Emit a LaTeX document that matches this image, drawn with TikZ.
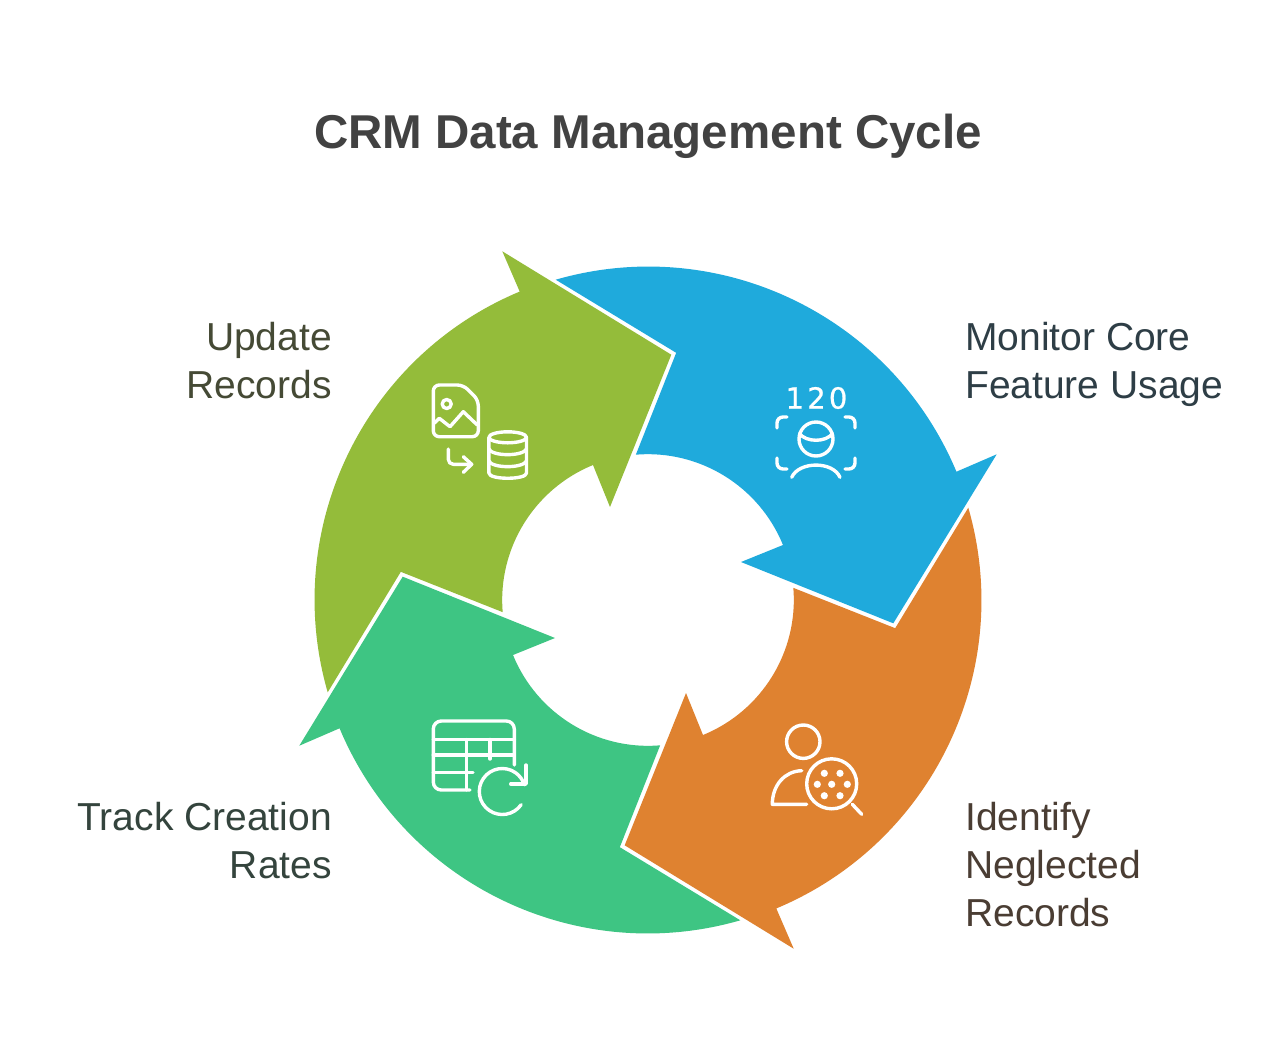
\documentclass[tikz,border=0pt]{standalone}
\usepackage{fontspec}
\setmainfont{Liberation Sans}
\newfontfamily\iconfont[FakeBold=0.8]{DejaVu Sans}
\definecolor{cblue}{HTML}{1FAADC}
\definecolor{cgreen}{HTML}{94BC3A}
\definecolor{corange}{HTML}{DF8230}
\definecolor{cteal}{HTML}{3EC583}
\definecolor{ctitle}{HTML}{424242}
\definecolor{tblue}{HTML}{2E3E46}
\definecolor{tgreen}{HTML}{454A35}
\definecolor{tteal}{HTML}{34443D}
\definecolor{torange}{HTML}{4A3D33}
\newcommand{\petal}[2]{%
  \fill[#1,shift={(648,600)},rotate=#2]
    (-92.3,-320.3) arc[start angle=-106.1,end angle=-22.7,radius=334]
    -- (348.7,-145.7) -- (245.3,23.3) -- (93,-38) -- (135,-55)
    arc[start angle=-22.2,end angle=-94.7,radius=146]
    -- (28.2,-247.2) -- cycle;}
\tikzset{
  icon/.style={draw=white,line width=3.4pt,line cap=round,line join=round,fill=none},
  dot/.style={fill=white,draw=none},
  lbl/.style={font=\fontsize{39}{48}\selectfont,inner sep=0pt},
}
\begin{document}
\begin{tikzpicture}[x=1pt,y=-1pt]
\fill[white] (0,0) rectangle (1272,1050);
\useasboundingbox (0,0) rectangle (1272,1050);
\node[font=\fontsize{47.5}{56}\bfseries\selectfont,text=ctitle,inner sep=0pt] (title) at (648,136) {CRM Data Management Cycle};
\petal{cblue}{0}
\petal{corange}{-90}
\petal{cteal}{-180}
\petal{cgreen}{-270}
% labels
\node[lbl,text=tblue,anchor=west,align=left] (monitor) at (965,364) {Monitor Core\\Feature Usage};
\node[lbl,text=tgreen,anchor=east,align=right] (update) at (332,360.5) {Update\\Records};
\node[lbl,text=torange,anchor=west,align=left] (identify) at (965,864.5) {Identify\\Neglected\\Records};
\node[lbl,text=tteal,anchor=east,align=right] (track) at (332,840.5) {Track Creation\\Rates};
% icon: monitor
\node[font=\iconfont\fontsize{29}{29}\selectfont,text=white,inner sep=0pt] (count) at (816.5,398) {1\kern3.2pt2\kern3.2pt0};
\draw[icon,rounded corners=6pt] (777,428) -- (777,417) -- (787,417);
\draw[icon,rounded corners=6pt] (855,428) -- (855,417) -- (845,417);
\draw[icon,rounded corners=6pt] (777,458) -- (777,469) -- (787,469);
\draw[icon,rounded corners=6pt] (855,458) -- (855,469) -- (845,469);
\draw[icon] (816,439) circle[radius=17];
\draw[icon] (799.5,433.5) .. controls (806,442.5) and (826,442.5) .. (832.5,433.5);
\draw[icon] (791.7,477.3) .. controls (799,461) and (833,461) .. (840,477.3);
% icon: update
\draw[icon,rounded corners=6pt] (450,385) -- (433.3,385) -- (433.3,436.7) -- (478.3,436.7) -- (478.3,400) -- (463.3,385) -- cycle;
\draw[icon] (446.7,404) circle[radius=4.5];
\draw[icon] (434,423.3) -- (439.3,418.3) -- (450,426.7) -- (463.3,411.7) -- (477.3,425);
\draw[icon,rounded corners=5pt] (448.3,449) -- (448.3,464.3) -- (471.7,464.3);
\draw[icon] (463.3,456.7) -- (471.7,464.3) -- (463.3,472.3);
\draw[icon] (507.7,437.3) ellipse[x radius=18.8,y radius=5.5];
\draw[icon] (488.9,437.3) -- (488.9,473) .. controls (489,480) and (526.5,480) .. (526.5,473) -- (526.5,437.3);
\draw[icon] (488.9,449) .. controls (492,456.5) and (523,456.5) .. (526.5,449);
\draw[icon] (488.9,461) .. controls (492,468.5) and (523,468.5) .. (526.5,461);
% icon: track
\draw[icon,rounded corners=8pt] (514.3,765) -- (514.3,721) -- (433.3,721) -- (433.3,790) -- (470,790);
\draw[icon] (433.3,739.5) -- (514.3,739.5);
\draw[icon] (433.3,755) -- (514.3,755);
\draw[icon] (433.3,772.3) -- (473,772.3);
\draw[icon] (466.7,739.5) -- (466.7,790);
\draw[icon] (490,739.5) -- (490,759);
\draw[icon] (502.3,791.5) ++(35:23) arc[start angle=35,end angle=343,radius=23];
\draw[icon] (526,765) -- (526,784) -- (510.7,784);
% icon: identify
\draw[icon] (803.3,741.7) circle[radius=16.7];
\draw[icon] (801.7,770.7) .. controls (785,771) and (772.3,785) .. (772.3,804.3) -- (806.7,804.3);
\draw[icon] (831.7,783.8) circle[radius=25];
\draw[icon] (852.3,804.3) -- (861.7,814.3);
\foreach \px/\py in {824.3/773.3,840/773.3,817.3/784.3,831.7/784.3,847.3/784.3,824.3/795.7,840/795.7}
  \fill[dot] (\px,\py) circle[radius=3.6];
\end{tikzpicture}
\end{document}
